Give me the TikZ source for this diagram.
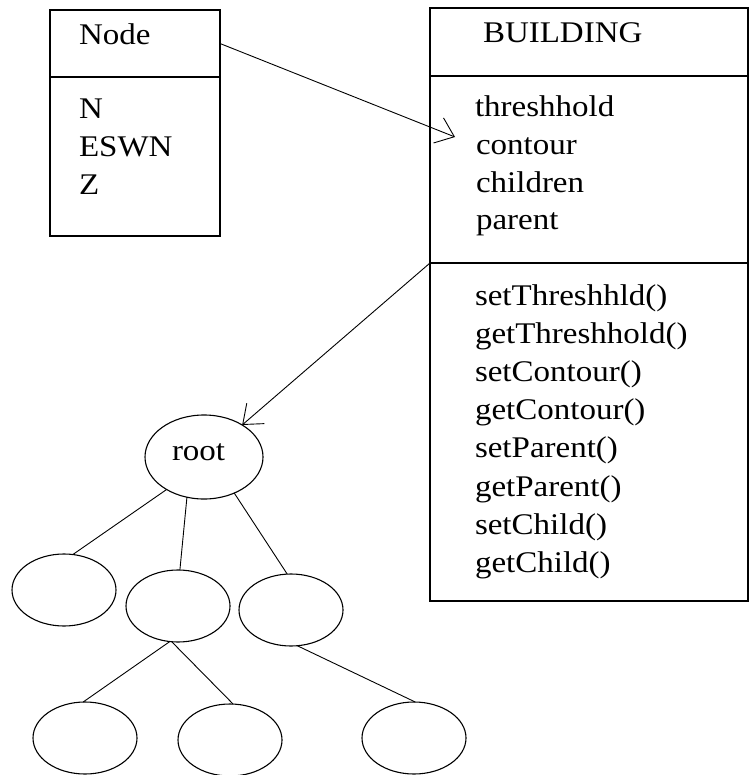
\documentclass[tikz,border=0pt]{standalone}
\usepackage{fontspec}
\setmainfont{Liberation Serif}[FakeStretch=1.1]
\usetikzlibrary{shapes.geometric,arrows.meta}

\tikzset{
  compartment/.style={draw, line width=1.6pt, inner sep=0pt, outer sep=0pt, anchor=north west},
  member/.style={anchor=base west, inner sep=0pt, outer sep=0pt, font=\fontsize{30}{36}\selectfont},
  treenode/.style={draw, ellipse, line width=1.1pt, inner sep=0pt, outer sep=0pt,
                   minimum width=104pt, minimum height=72pt},
  link/.style={line width=0.9pt},
  arrowlink/.style={link, -{Straight Barb[length=17pt, width=27pt, line width=0.9pt]}}
}

\begin{document}
\begin{tikzpicture}[x=1pt, y=-1pt]
\useasboundingbox (0,0) rectangle (749,775);
\fill[white] (0,0) rectangle (749,775);

% class Node
\node[compartment, minimum width=170pt, minimum height=67pt]  (nodehead) at (50,10) {};
\node[compartment, minimum width=170pt, minimum height=159pt] (nodebody) at (50,77) {};
\node[member] (nodetitle) at (79,45)  {Node};
\node[member] (fieldN)    at (79,119) {N};
\node[member] (fieldESWN) at (79,157) {ESWN};
\node[member] (fieldZ)    at (79,195) {Z};

% class BUILDING
\node[compartment, minimum width=318pt, minimum height=68pt]  (bhead)    at (430,8) {};
\node[compartment, minimum width=318pt, minimum height=187pt] (battrs)   at (430,76) {};
\node[compartment, minimum width=318pt, minimum height=338pt] (bmethods) at (430,263) {};
\node[member] (btitle) at (483,43) {BUILDING};
\node[member] (aThr)  at (475,117) {threshhold};
\node[member] (aCon)  at (476,155) {contour};
\node[member] (aChi)  at (476,193) {children};
\node[member] (aPar)  at (476,230) {parent};
\node[member] (m1) at (475,305) {setThreshhld()};
\node[member] (m2) at (475,343) {getThreshhold()};
\node[member] (m3) at (475,381) {setContour()};
\node[member] (m4) at (475,419) {getContour()};
\node[member] (m5) at (475,457) {setParent()};
\node[member] (m6) at (475,496) {getParent()};
\node[member] (m7) at (475,534) {setChild()};
\node[member] (m8) at (475,572) {getChild()};

% tree
\node[treenode, minimum width=118pt, minimum height=84pt] (root) at (204,457) {};
\node[member] (rootname) at (172,460) {root};
\node[treenode] (A) at (64,590) {};
\node[treenode] (B) at (178,606) {};
\node[treenode] (C) at (291,610) {};
\node[treenode] (D) at (85,738) {};
\node[treenode] (E) at (230,740) {};
\node[treenode] (F) at (414,738) {};

\draw[link] (root.221) -- (A.76);
\draw[link] (root.247) -- (B.87);
\draw[link] (root.310) -- (C.96);
\draw[link] (B.257) -- (D.93);
\draw[link] (B.260) -- (E.85);
\draw[link] (C.280) -- (F.88);

% associations
\coordinate (attrtip) at (455,137);
\draw[arrowlink] (nodehead.east) -- (attrtip);
\draw[arrowlink] (bmethods.north west) -- (root.40);
\end{tikzpicture}
\end{document}
